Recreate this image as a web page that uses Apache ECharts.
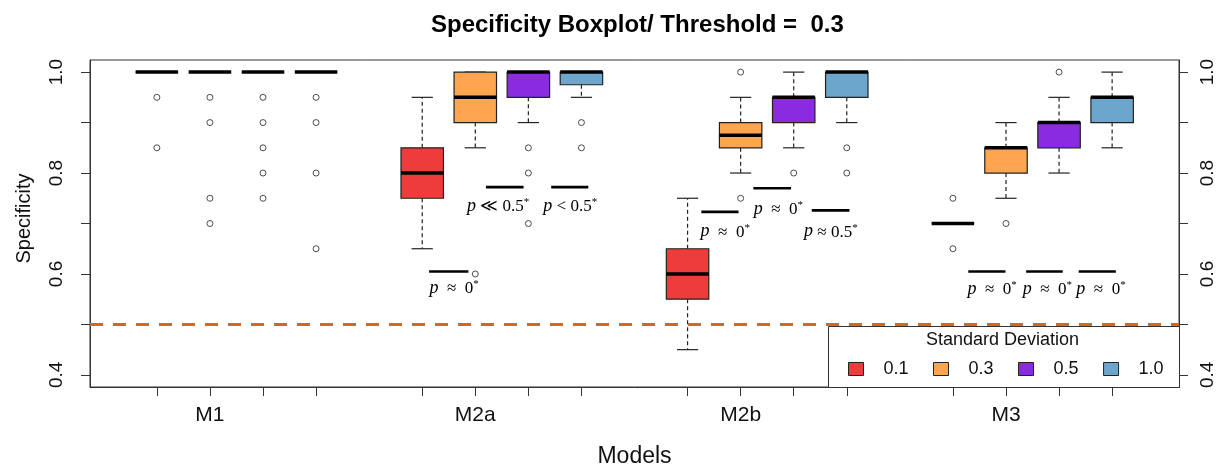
<!DOCTYPE html>
<html>
<head>
<meta charset="utf-8">
<script src="https://cdn.jsdelivr.net/npm/echarts@6/dist/echarts.min.js"></script>
<style>
  html, body { margin: 0; padding: 0; background: #ffffff; }
  #chart { width: 1223px; height: 465px; }
</style>
</head>
<body>
<div id="chart"></div>
<script>
// ---- data ----
const models = ['M1', 'M2a', 'M2b', 'M3'];
const sdLevels = ['0.1', '0.3', '0.5', '1.0'];
const sdColors = ['#EE3B3B', '#FFA54F', '#8A2BE2', '#6CA6CD'];

// x position of each box: one row per model, one column per SD level
const boxPositions = [[1, 2, 3, 4], [6, 7, 8, 9], [11, 12, 13, 14], [16, 17, 18, 19]];
// model label sits under the second box of its group
const modelLabelPositions = [2, 7, 12, 17];

// five-number summaries: [lower whisker, Q1, median, Q3, upper whisker], one per SD level
const statsM1  = [[1, 1, 1, 1, 1], [1, 1, 1, 1, 1], [1, 1, 1, 1, 1], [1, 1, 1, 1, 1]];
const statsM2a = [[0.65, 0.75, 0.80, 0.85, 0.95], [0.85, 0.90, 0.95, 1.00, 1.00], [0.90, 0.95, 1.00, 1.00, 1.00], [0.95, 0.975, 1.00, 1.00, 1.00]];
const statsM2b = [[0.45, 0.55, 0.60, 0.65, 0.75], [0.80, 0.85, 0.875, 0.90, 0.95], [0.85, 0.90, 0.95, 0.95, 1.00], [0.90, 0.95, 1.00, 1.00, 1.00]];
const statsM3  = [[0.70, 0.70, 0.70, 0.70, 0.70], [0.75, 0.80, 0.85, 0.85, 0.90], [0.80, 0.85, 0.90, 0.90, 0.95], [0.85, 0.90, 0.95, 0.95, 1.00]];

// outlying specificity values, one list per SD level
const outliersM1  = [[0.95, 0.85], [0.95, 0.90, 0.75, 0.70], [0.95, 0.90, 0.85, 0.80, 0.75], [0.95, 0.90, 0.80, 0.65]];
const outliersM2a = [[], [0.60], [0.85, 0.80, 0.70], [0.90, 0.85]];
const outliersM2b = [[], [1.00, 0.75], [0.80], [0.85, 0.80]];
const outliersM3  = [[0.75, 0.65], [0.70], [1.00], []];

const threshold = 0.5;

// axis ticks and labels
const yTicks = [0.4, 0.5, 0.6, 0.7, 0.8, 0.9, 1.0];
const yTickLabels = [0.4, 0.6, 0.8, 1.0];

// significance annotations: bar span and height, label anchor, relation text
const pBarSpan = [[6.13, 6.87], [7.20, 7.91], [8.43, 9.13], [11.26, 11.96], [12.24, 12.95], [13.34, 14.05], [16.29, 16.99], [17.38, 18.07], [18.37, 19.07]];
const pBarLevel = [0.605, 0.772, 0.772, 0.723, 0.770, 0.726, 0.605, 0.605, 0.605];
const pLabelAnchor = [[6.60, 0.572], [7.43, 0.735], [8.79, 0.735], [11.71, 0.684], [12.71, 0.729], [13.70, 0.684], [16.74, 0.570], [17.78, 0.570], [18.79, 0.570]];
const pRelation = ['  \u2248  0', ' \u226A 0.5', ' < 0.5', '  \u2248  0', '  \u2248  0', ' \u2248 0.5', '  \u2248  0', '  \u2248  0', '  \u2248  0'];

// ---- build series ----
const allStats = [statsM1, statsM2a, statsM2b, statsM3];
const allOutliers = [outliersM1, outliersM2a, outliersM2b, outliersM3];

const FONT = '"Liberation Sans", Arial, sans-serif';
const SERIF = '"Liberation Serif", "DejaVu Serif", serif';
const INK = '#222222';

function renderBox(params, api) {
  const x = api.value(0);
  const lo = api.coord([x, api.value(1)]);
  const q1 = api.coord([x, api.value(2)]);
  const med = api.coord([x, api.value(3)]);
  const q3 = api.coord([x, api.value(4)]);
  const hi = api.coord([x, api.value(5)]);
  const w = api.size([0.8, 0])[0];
  const cx = lo[0];
  const fill = api.visual('color');
  const whiskerStyle = { stroke: INK, lineWidth: 1.2, lineDash: [4, 3] };
  const capStyle = { stroke: INK, lineWidth: 1.2 };
  return {
    type: 'group',
    children: [
      { type: 'line', shape: { x1: cx, y1: q3[1], x2: cx, y2: hi[1] }, style: whiskerStyle },
      { type: 'line', shape: { x1: cx, y1: q1[1], x2: cx, y2: lo[1] }, style: whiskerStyle },
      { type: 'line', shape: { x1: cx - w / 4, y1: hi[1], x2: cx + w / 4, y2: hi[1] }, style: capStyle },
      { type: 'line', shape: { x1: cx - w / 4, y1: lo[1], x2: cx + w / 4, y2: lo[1] }, style: capStyle },
      { type: 'rect', shape: { x: cx - w / 2, y: q3[1], width: w, height: q1[1] - q3[1] },
        style: { fill: fill, stroke: INK, lineWidth: 1.2 } },
      { type: 'line', shape: { x1: cx - w / 2, y1: med[1], x2: cx + w / 2, y2: med[1] },
        style: { stroke: '#000000', lineWidth: 3.5 } }
    ]
  };
}

const boxSeries = sdLevels.map((sd, k) => ({
  name: sd,
  type: 'custom',
  renderItem: renderBox,
  itemStyle: { color: sdColors[k], borderColor: INK, borderWidth: 1 },
  encode: { x: 0, y: [1, 2, 3, 4, 5] },
  data: models.map((m, g) => [boxPositions[g][k]].concat(allStats[g][k])),
  z: 3
}));

const outlierData = [];
models.forEach((m, g) => {
  sdLevels.forEach((sd, k) => {
    allOutliers[g][k].forEach(v => outlierData.push([boxPositions[g][k], v]));
  });
});

const outlierSeries = {
  name: 'outliers',
  type: 'scatter',
  symbol: 'circle',
  symbolSize: 6,
  itemStyle: { color: '#ffffff', borderColor: INK, borderWidth: 1 },
  data: outlierData,
  z: 4,
  silent: true
};

const annotationData = pBarSpan.map((s, i) => [s[0], s[1], pBarLevel[i], pLabelAnchor[i][0], pLabelAnchor[i][1], i]);

const annotationSeries = {
  name: 'tests',
  type: 'custom',
  renderItem: function (params, api) {
    const a = api.coord([api.value(0), api.value(2)]);
    const b = api.coord([api.value(1), api.value(2)]);
    const t = api.coord([api.value(3), api.value(4)]);
    const i = api.value(5);
    return {
      type: 'group',
      children: [
        { type: 'line', shape: { x1: a[0], y1: a[1], x2: b[0], y2: b[1] },
          style: { stroke: '#000000', lineWidth: 2.6 } },
        { type: 'text', x: t[0], y: t[1],
          style: {
            text: '{p|p}{r|' + pRelation[i] + '}{s|*}',
            align: 'center', verticalAlign: 'middle',
            rich: {
              p: { fontFamily: SERIF, fontStyle: 'italic', fontSize: 18, fill: '#000', verticalAlign: 'bottom' },
              r: { fontFamily: SERIF, fontSize: 17, fill: '#000', verticalAlign: 'bottom' },
              s: { fontFamily: SERIF, fontSize: 11, fill: '#000', verticalAlign: 'top' }
            }
          } }
      ]
    };
  },
  encode: { x: [0, 1, 3], y: [2, 4] },
  data: annotationData,
  z: 5,
  silent: true
};

const thresholdSeries = {
  name: 'threshold',
  type: 'line',
  data: [],
  markLine: {
    silent: true,
    symbol: ['none', 'none'],
    label: { show: false },
    lineStyle: { color: '#D2691E', type: [13, 10], width: 3 },
    data: [{ yAxis: threshold }],
    z: 6
  },
  z: 6
};

const yAxisCommon = {
  type: 'value',
  min: 0.376,
  max: 1.024,
  splitLine: { show: false },
  axisLine: { show: true, onZero: false, lineStyle: { color: '#333333', width: 1 } },
  axisTick: { show: true, inside: false, length: 9, customValues: yTicks, lineStyle: { color: '#333333' } },
  axisLabel: {
    customValues: yTickLabels,
    rotate: 90,
    fontFamily: FONT, fontSize: 19, color: '#111111',
    formatter: v => v.toFixed(1)
  }
};

const option = {
  animation: false,
  backgroundColor: '#ffffff',
  title: {
    // centred over the plotting region
    text: 'Specificity Boxplot/ Threshold =  0.3',
    left: 426,
    top: 8,
    textStyle: { fontFamily: FONT, fontSize: 24, fontWeight: 'bold', color: '#000000' }
  },
  grid: {
    left: 90, right: 44, top: 60, bottom: 78,
    containLabel: false,
    outerBoundsMode: 'none',
    show: true, borderColor: '#333333', borderWidth: 1, backgroundColor: 'transparent'
  },
  xAxis: {
    type: 'value',
    min: -0.26,
    max: 20.26,
    name: 'Models',
    nameLocation: 'middle',
    nameGap: 58,
    nameTextStyle: { fontFamily: FONT, fontSize: 23, color: '#111111' },
    splitLine: { show: false },
    axisLine: { show: true, onZero: false, lineStyle: { color: '#333333', width: 1 } },
    axisTick: { show: true, length: 9, customValues: boxPositions.flat(), lineStyle: { color: '#333333' } },
    axisLabel: {
      customValues: modelLabelPositions,
      margin: 18,
      fontFamily: FONT, fontSize: 21, color: '#111111',
      formatter: v => models[modelLabelPositions.indexOf(v)] || ''
    }
  },
  yAxis: [
    Object.assign({}, yAxisCommon, {
      position: 'left',
      name: 'Specificity',
      nameLocation: 'middle',
      nameGap: 56,
      nameTextStyle: { fontFamily: FONT, fontSize: 20, color: '#111111', padding: [0, 0, 0, 10] },
      axisLabel: Object.assign({}, yAxisCommon.axisLabel, { margin: 24 })
    }),
    Object.assign({}, yAxisCommon, {
      position: 'right',
      axisLabel: Object.assign({}, yAxisCommon.axisLabel, { margin: 19 })
    })
  ],
  legend: {
    data: sdLevels,
    left: 848,
    top: 360,
    icon: 'rect',
    itemWidth: 15,
    itemHeight: 13,
    itemGap: 24.5,
    padding: 0,
    textStyle: { fontFamily: FONT, fontSize: 18, color: '#111111', padding: [0, 0, 0, 15] },
    itemStyle: { borderColor: INK, borderWidth: 1 }
  },
  graphic: [
    // legend frame in the bottom-right corner of the plot
    { type: 'rect', left: 828, top: 326, shape: { width: 351, height: 61 },
      style: { fill: '#ffffff', stroke: '#333333', lineWidth: 1 }, z: 1 },
    { type: 'text', left: 926, top: 331,
      style: { text: 'Standard Deviation', fontFamily: FONT, fontSize: 18, fill: '#111111' }, z: 2 }
  ],
  series: boxSeries.concat([outlierSeries, annotationSeries, thresholdSeries])
};

const chart = echarts.init(document.getElementById('chart'), null, { renderer: 'canvas' });
chart.setOption(option);
</script>
</body>
</html>
